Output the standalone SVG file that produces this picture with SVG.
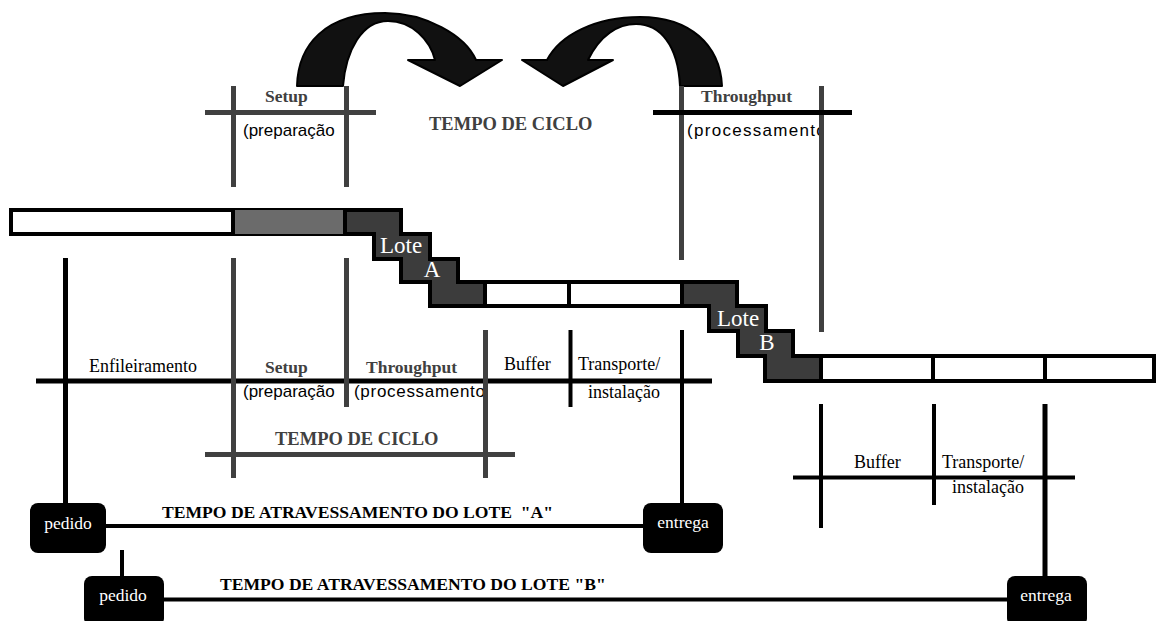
<svg xmlns="http://www.w3.org/2000/svg" width="1156" height="621" viewBox="0 0 1156 621">
<style>
.bold{font-family:"Liberation Serif","Times New Roman",serif;font-weight:bold;font-size:17.5px;fill:#404040}
.boldk{font-family:"Liberation Serif","Times New Roman",serif;font-weight:bold;font-size:17.6px;fill:#000}
.serif{font-family:"Liberation Serif","Times New Roman",serif;font-size:18px;fill:#000}
.sans{font-family:"Liberation Sans",Arial,sans-serif;font-size:17px;fill:#000}
.sansw{font-family:"Liberation Sans",Arial,sans-serif;font-size:17px;fill:#000;letter-spacing:1.3px}
.sansm{font-family:"Liberation Sans",Arial,sans-serif;font-size:17px;fill:#000;letter-spacing:0.7px}
.lote{font-family:"Liberation Serif","Times New Roman",serif;font-size:23px;fill:#fff}
.btxt{font-family:"Liberation Serif","Times New Roman",serif;font-size:17.5px;fill:#fff;text-anchor:middle}
.g{stroke:#404040;stroke-width:5;fill:none}
.k{stroke:#000;stroke-width:5;fill:none}
.k4{stroke:#000;stroke-width:4;fill:none}
.bar{fill:#fff;stroke:#000;stroke-width:4}
.dark{fill:#3c3c3c;stroke:#000;stroke-width:4;stroke-linejoin:miter}
.box{fill:#000}
.arrow{fill:#111;stroke:#000;stroke-width:2;stroke-linejoin:round}
</style>
<defs>
<clipPath id="clipTop"><rect x="680" y="110" width="139" height="40"/></clipPath>
<clipPath id="clipMid"><rect x="350" y="380" width="133" height="30"/></clipPath>
</defs>
<rect width="1156" height="621" fill="#fff"/>

<g id="arrows">
<path class="arrow" d="M297,86 C298,45 325,13 385,13 C425,13 465,35 476,60 L502,60 L460,86 L408,60 L435,60 C430,40 412,21 388,21 C362,21 346,50 343,86 Z"/>
<path class="arrow" d="M722,86 C720,45 690,17 640,17 C595,17 560,35 547,60 L522,60 L563,86 L613,60 L588,60 C600,35 618,24 636,24 C660,24 678,45 680,86 Z"/>
</g>

<g id="connectors">
<line class="g" x1="233.5" y1="86" x2="233.5" y2="187"/>
<line class="g" x1="346.5" y1="86" x2="346.5" y2="187"/>
<line class="g" x1="205" y1="112.5" x2="376" y2="112.5"/>
<line class="g" x1="681.5" y1="86" x2="681.5" y2="260"/>
<line class="g" x1="821.5" y1="86" x2="821.5" y2="332"/>
<line class="k" x1="653" y1="112.5" x2="852" y2="112.5"/>
<line class="k" x1="36" y1="381" x2="712" y2="381"/>
<line class="k" x1="65.5" y1="258" x2="65.5" y2="505"/>
<line class="g" x1="233.5" y1="258" x2="233.5" y2="478"/>
<line class="g" x1="346.5" y1="258" x2="346.5" y2="407"/>
<line class="g" x1="485.5" y1="330" x2="485.5" y2="478"/>
<line class="k4" x1="570.5" y1="330" x2="570.5" y2="407"/>
<line class="k4" x1="682" y1="330" x2="682" y2="505"/>
<line class="g" x1="205" y1="454.5" x2="515" y2="454.5"/>
<line class="k4" x1="793" y1="477.5" x2="1075" y2="477.5"/>
<line class="k4" x1="821" y1="404" x2="821" y2="528"/>
<line class="k4" x1="934" y1="404" x2="934" y2="505"/>
<line class="k" x1="1045" y1="404" x2="1045" y2="578"/>
<line class="k4" x1="104" y1="526" x2="645" y2="526"/>
<line class="k4" x1="122" y1="550" x2="122" y2="578"/>
<line class="k4" x1="162" y1="599.5" x2="1009" y2="599.5"/>
</g>

<g id="bars">
<rect class="bar" x="11" y="210" width="390" height="24"/>
<rect x="233" y="210" width="112" height="24" fill="#6b6b6b"/>
<rect class="bar" x="430" y="282" width="307" height="24"/>
<rect class="bar" x="765" y="356" width="389" height="25"/>
<line class="k4" x1="233" y1="208" x2="233" y2="236"/>
<line class="k4" x1="569" y1="280" x2="569" y2="308"/>
<line class="k4" x1="933" y1="354" x2="933" y2="383"/>
<line class="k4" x1="1045" y1="354" x2="1045" y2="383"/>
</g>

<g id="loteA">
<path class="dark" d="M345,210 L401,210 L401,234 L430,234 L430,259 L458,259 L458,282 L485,282 L485,306 L430,306 L430,282 L401,282 L401,259 L374,259 L374,234 L345,234 Z"/>
<text class="lote" x="380" y="253">Lote</text>
<text class="lote" x="432" y="277" text-anchor="middle">A</text>
</g>

<g id="loteB">
<path class="dark" d="M682,282 L737,282 L737,306 L766,306 L766,331 L793,331 L793,356 L821,356 L821,381 L765,381 L765,356 L738,356 L738,331 L709,331 L709,306 L682,306 Z"/>
<text class="lote" x="717" y="326">Lote</text>
<text class="lote" x="767" y="350" text-anchor="middle">B</text>
</g>

<g id="labelsTop">
<text class="bold" x="265" y="102">Setup</text>
<text class="sans" x="243" y="136">(preparação</text>
<text class="bold" x="429" y="130" style="font-size:18.5px">TEMPO DE CICLO</text>
<text class="bold" x="701" y="102">Throughput</text>
<text class="sansw" x="687" y="136" clip-path="url(#clipTop)">(processamento</text>
</g>

<g id="labelsMid">
<text class="serif" x="89" y="372">Enfileiramento</text>
<text class="bold" x="265" y="373">Setup</text>
<text class="bold" x="366" y="373">Throughput</text>
<text class="sans" x="243" y="397">(preparação</text>
<text class="sansm" x="354" y="397" clip-path="url(#clipMid)">(processamento</text>
<text class="serif" x="504" y="370">Buffer</text>
<text class="serif" x="578" y="370">Transporte/</text>
<text class="serif" x="588" y="398">instalação</text>
<text class="bold" x="275" y="445" style="font-size:18.5px">TEMPO DE CICLO</text>
</g>

<g id="labelsRight">
<text class="serif" x="854" y="468">Buffer</text>
<text class="serif" x="942" y="468">Transporte/</text>
<text class="serif" x="952" y="493">instalação</text>
</g>

<g id="pedidoA">
<rect class="box" x="30" y="503" width="76" height="50" rx="8"/>
<text class="btxt" x="68" y="529">pedido</text>
</g>
<g id="entregaA">
<rect class="box" x="643" y="503" width="80" height="50" rx="8"/>
<text class="btxt" x="683" y="528">entrega</text>
</g>
<g id="pedidoB">
<rect class="box" x="84" y="576" width="80" height="50" rx="8"/>
<text class="btxt" x="123" y="601">pedido</text>
</g>
<g id="entregaB">
<rect class="box" x="1007" y="576" width="80" height="50" rx="8"/>
<text class="btxt" x="1046" y="601">entrega</text>
</g>

<g id="leadTimeLabels">
<text class="boldk" x="162" y="518" xml:space="preserve">TEMPO DE ATRAVESSAMENTO DO LOTE  "A"</text>
<text class="boldk" x="220" y="590">TEMPO DE ATRAVESSAMENTO DO LOTE "B"</text>
</g>
</svg>
